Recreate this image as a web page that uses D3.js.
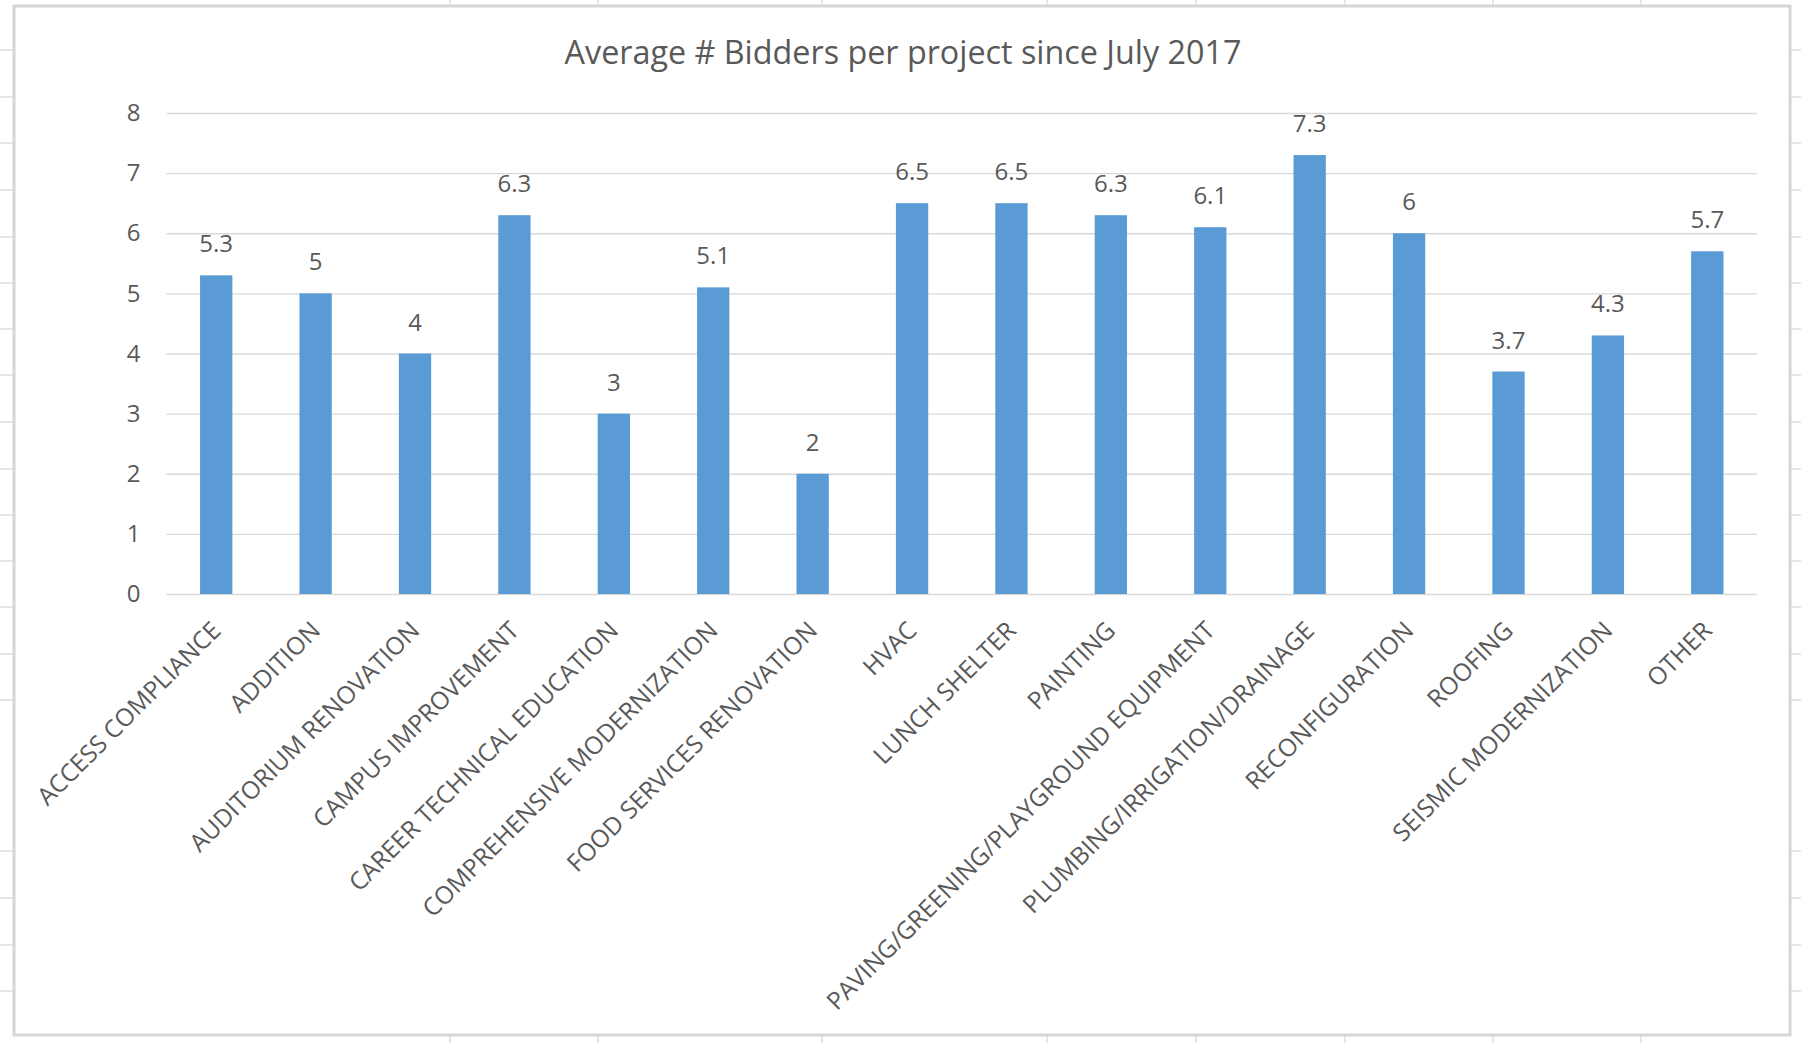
<!DOCTYPE html>
<html>
<head>
<meta charset="utf-8">
<script src="https://cdn.jsdelivr.net/npm/d3@7"></script>
<style>
  html, body { margin: 0; padding: 0; background: #ffffff; }
  svg { display: block; }
  text { font-family: "Open Sans", "Noto Sans", sans-serif; fill: #595959; }
</style>
</head>
<body>
<svg id="chart" width="1801" height="1043"></svg>
<script>
// Average number of bidders per project type
const categories = [
  "ACCESS COMPLIANCE", "ADDITION", "AUDITORIUM RENOVATION", "CAMPUS IMPROVEMENT",
  "CAREER TECHNICAL EDUCATION", "COMPREHENSIVE MODERNIZATION", "FOOD SERVICES RENOVATION",
  "HVAC", "LUNCH SHELTER", "PAINTING", "PAVING/GREENING/PLAYGROUND EQUIPMENT",
  "PLUMBING/IRRIGATION/DRAINAGE", "RECONFIGURATION", "ROOFING", "SEISMIC MODERNIZATION", "OTHER"
];
const avgBidders = [5.3, 5, 4, 6.3, 3, 5.1, 2, 6.5, 6.5, 6.3, 6.1, 7.3, 6, 3.7, 4.3, 5.7];
const yTicks = [0, 1, 2, 3, 4, 5, 6, 7, 8];
const titleText = "Average # Bidders per project since July 2017";

// worksheet cell borders peeking out around the embedded chart
const sheetRows = [50, 97, 143, 190, 237, 283, 329, 375, 422, 469, 515, 561, 607, 654, 700, 851, 898, 945, 991];
const sheetCols = [450, 598, 822, 1047, 1196, 1345, 1493, 1641];

const W = 1801, H = 1043;
const frame = { x0: 14, y0: 6, x1: 1790, y1: 1035 };
const plot = { left: 166.5, right: 1757, top: 113, bottom: 594 };

const svg = d3.select("#chart");

// --- worksheet background ---
const sheet = svg.append("g").attr("stroke", "#d4d4d4").attr("stroke-width", 1.2);
sheet.selectAll("line.rowL").data(sheetRows).join("line")
  .attr("x1", 0).attr("x2", frame.x0).attr("y1", d => d).attr("y2", d => d);
sheet.selectAll("line.rowR").data(sheetRows).join("line")
  .attr("x1", frame.x1).attr("x2", W).attr("y1", d => d).attr("y2", d => d);
sheet.selectAll("line.colT").data(sheetCols).join("line")
  .attr("x1", d => d).attr("x2", d => d).attr("y1", 0).attr("y2", frame.y0);
sheet.selectAll("line.colB").data(sheetCols).join("line")
  .attr("x1", d => d).attr("x2", d => d).attr("y1", frame.y1).attr("y2", H);

// --- chart frame ---
svg.append("rect")
  .attr("x", frame.x0).attr("y", frame.y0)
  .attr("width", frame.x1 - frame.x0).attr("height", frame.y1 - frame.y0)
  .attr("fill", "#ffffff").attr("stroke", "#d6d6d6").attr("stroke-width", 3);

// --- scales ---
const x = d3.scaleBand()
  .domain(categories)
  .range([plot.left, plot.right])
  .paddingInner(0.675)
  .paddingOuter(0.3375);

const y = d3.scaleLinear()
  .domain([0, 8])
  .range([plot.bottom, plot.top]);

// --- gridlines and value axis ---
const yAxis = d3.axisLeft(y)
  .tickValues(yTicks)
  .tickSize(-(plot.right - plot.left))
  .tickPadding(26)
  .tickFormat(d3.format("d"));

const gy = svg.append("g")
  .attr("transform", `translate(${plot.left},0)`)
  .call(yAxis);
gy.select(".domain").remove();
gy.selectAll(".tick line").attr("stroke", "#d9d9d9").attr("stroke-width", 1.3);
gy.selectAll(".tick text")
  .attr("font-size", 24)
  .attr("fill", "#595959")
  .style("font-family", "'Open Sans', sans-serif");

// --- bars ---
const rows = categories.map((c, i) => ({ cat: c, value: avgBidders[i] }));

svg.append("g").selectAll("rect").data(rows).join("rect")
  .attr("x", d => x(d.cat))
  .attr("y", d => y(d.value))
  .attr("width", x.bandwidth())
  .attr("height", d => y(0) - y(d.value))
  .attr("fill", "#5b9bd5");

// --- value labels ---
svg.append("g").selectAll("text").data(rows).join("text")
  .attr("x", d => x(d.cat) + x.bandwidth() / 2)
  .attr("y", d => y(d.value) - 23)
  .attr("text-anchor", "middle")
  .attr("font-size", 24)
  .text(d => d.value);

// --- category labels, rotated 45 degrees ---
svg.append("g").selectAll("text").data(categories).join("text")
  .attr("transform", d => `translate(${x(d) + x.bandwidth() / 2},${plot.bottom + 32}) rotate(-45)`)
  .attr("text-anchor", "end")
  .attr("dy", "0.35em")
  .attr("font-size", 24.5)
  .text(d => d);

// --- title ---
svg.append("text")
  .attr("x", 903)
  .attr("y", 64)
  .attr("text-anchor", "middle")
  .attr("font-size", 32.3)
  .text(titleText);
</script>
</body>
</html>
